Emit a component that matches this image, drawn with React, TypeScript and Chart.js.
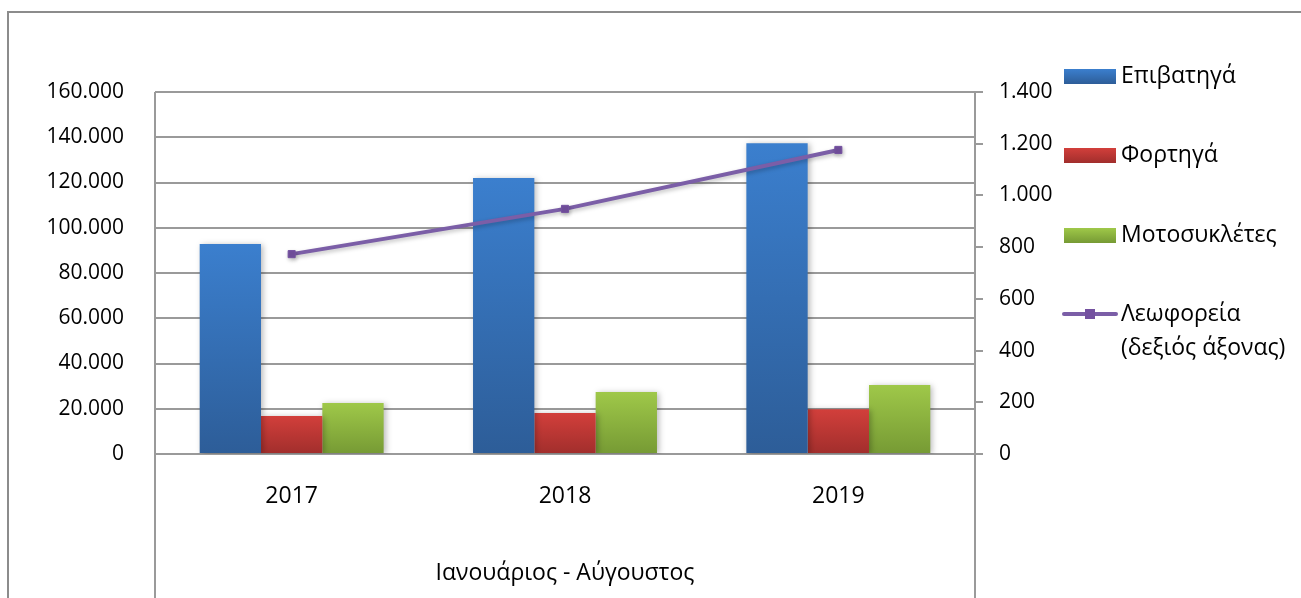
import React, { useEffect, useRef } from "react";
import { Chart, registerables } from "chart.js";

Chart.register(...registerables);

const categories = ["2017", "2018", "2019"];
const outerCategory = "Ιανουάριος - Αύγουστος";
const seriesNames = ["Επιβατηγά", "Φορτηγά", "Μοτοσυκλέτες", "Λεωφορεία (δεξιός άξονας)"];
const passengerCars = [92800, 122000, 137300];
const trucks = [16800, 18100, 19750];
const motorcycles = [22500, 27400, 30500];
const buses = [773, 948, 1176];
const leftMax = 160000;
const leftStep = 20000;
const rightMax = 1400;
const rightStep = 200;

const FONT = "'Open Sans', sans-serif";
const GRID = "#9a9a9a";

const barColors = [
  ["#3b7fce", "#2d5d98"],
  ["#d23f3b", "#a12e2c"],
  ["#9fc849", "#769a34"],
];

const fmt = (v: number) => String(Math.round(v)).replace(/\B(?=(\d{3})+(?!\d))/g, ".");

function barGradient(ctx: any, idx: number) {
  const chart = ctx.chart;
  const area = chart.chartArea;
  const c = barColors[idx];
  if (!area || ctx.raw === undefined) return c[0];
  const yScale = chart.scales.y;
  const top = yScale.getPixelForValue(ctx.raw);
  const bottom = yScale.getPixelForValue(0);
  const g = chart.ctx.createLinearGradient(0, top, 0, bottom);
  g.addColorStop(0, c[0]);
  g.addColorStop(1, c[1]);
  return g;
}

const decorPlugin = {
  id: "decor",
  beforeDatasetDraw(chart: any, args: any) {
    const ctx = chart.ctx;
    ctx.save();
    if (args.meta.type === "bar") {
      ctx.shadowColor = "rgba(0,0,0,0.28)";
      ctx.shadowBlur = 6;
      ctx.shadowOffsetX = 2;
      ctx.shadowOffsetY = 1;
    } else {
      ctx.shadowColor = "rgba(0,0,0,0.25)";
      ctx.shadowBlur = 4;
      ctx.shadowOffsetX = 1;
      ctx.shadowOffsetY = 2;
    }
  },
  afterDatasetDraw(chart: any) {
    chart.ctx.restore();
  },
  afterDraw(chart: any) {
    const ctx = chart.ctx;
    const { left, right, top } = chart.chartArea;
    const H = chart.height;
    const W = chart.width;
    ctx.save();
    // outer frame
    ctx.strokeStyle = "#8c8c8c";
    ctx.lineWidth = 2;
    ctx.beginPath();
    ctx.moveTo(8, H);
    ctx.lineTo(8, 12);
    ctx.lineTo(W, 12);
    ctx.stroke();
    // axis / category separators
    ctx.strokeStyle = GRID;
    ctx.lineWidth = 2;
    ctx.beginPath();
    ctx.moveTo(left, top);
    ctx.lineTo(left, H);
    ctx.moveTo(right, top);
    ctx.lineTo(right, H);
    ctx.stroke();
    // outer category label
    ctx.fillStyle = "#000";
    ctx.font = `23px ${FONT}`;
    ctx.textAlign = "center";
    ctx.textBaseline = "middle";
    ctx.fillText(outerCategory, (left + right) / 2, 573);

    // legend
    ctx.textAlign = "left";
    const boxX = 1064;
    const boxW = 52;
    const textX = 1121;
    const ys = [76, 155, 235];
    for (let i = 0; i < 3; i++) {
      const y = ys[i];
      const g = ctx.createLinearGradient(0, y - 7, 0, y + 8);
      g.addColorStop(0, barColors[i][0]);
      g.addColorStop(1, barColors[i][1]);
      ctx.fillStyle = g;
      ctx.fillRect(boxX, y - 7, boxW, 15);
      ctx.fillStyle = "#000";
      ctx.fillText(seriesNames[i], textX, y);
    }
    const ly = 314;
    ctx.strokeStyle = "#7b5ea7";
    ctx.lineWidth = 4;
    ctx.lineCap = "round";
    ctx.beginPath();
    ctx.moveTo(1064, ly);
    ctx.lineTo(1116, ly);
    ctx.stroke();
    ctx.fillStyle = "#7451a0";
    ctx.fillRect(1085, ly - 5, 10, 10);
    ctx.fillStyle = "#000";
    const parts = seriesNames[3].split(" (");
    ctx.fillText(parts[0], textX, ly);
    ctx.fillText("(" + parts[1], textX, ly + 34);
    ctx.restore();
  },
};

export default function App() {
  const ref = useRef<HTMLCanvasElement | null>(null);
  useEffect(() => {
    if (!ref.current) return;
    const chart = new Chart(ref.current, {
      type: "bar",
      data: {
        labels: categories,
        datasets: [
          {
            type: "line",
            label: seriesNames[3],
            data: buses,
            yAxisID: "y1",
            borderColor: "#7b5ea7",
            borderWidth: 4,
            pointStyle: "rect",
            pointRadius: 5,
            pointBackgroundColor: "#7451a0",
            pointBorderColor: "#7451a0",
            pointBorderWidth: 1,
            order: 0,
          } as any,
          {
            label: seriesNames[0],
            data: passengerCars,
            yAxisID: "y",
            backgroundColor: (c: any) => barGradient(c, 0),
            categoryPercentage: 0.673,
            barPercentage: 1,
            order: 1,
          },
          {
            label: seriesNames[1],
            data: trucks,
            yAxisID: "y",
            backgroundColor: (c: any) => barGradient(c, 1),
            categoryPercentage: 0.673,
            barPercentage: 1,
            order: 1,
          },
          {
            label: seriesNames[2],
            data: motorcycles,
            yAxisID: "y",
            backgroundColor: (c: any) => barGradient(c, 2),
            categoryPercentage: 0.673,
            barPercentage: 1,
            order: 1,
          },
        ],
      },
      options: {
        animation: false,
        responsive: false,
        devicePixelRatio: 1,
        layout: { padding: { left: 0, top: 92, right: 226, bottom: 0 } },
        plugins: { legend: { display: false }, tooltip: { enabled: false } },
        scales: {
          x: {
            grid: { display: false, drawTicks: false },
            border: { display: false },
            ticks: { color: "#000", font: { family: FONT, size: 23 }, padding: 29 },
            afterFit: (s: any) => {
              s.height = 144;
            },
          },
          y: {
            position: "left",
            min: 0,
            max: leftMax,
            grid: { color: GRID, lineWidth: 2, drawTicks: false },
            border: { display: false },
            ticks: {
              stepSize: leftStep,
              color: "#000",
              font: { family: FONT, size: 21 },
              padding: 31,
              callback: (v: any) => fmt(Number(v)),
            },
            afterFit: (s: any) => {
              s.width = 155;
            },
          },
          y1: {
            position: "right",
            min: 0,
            max: rightMax,
            grid: { drawOnChartArea: false, drawTicks: true, tickLength: 8, color: GRID, lineWidth: 2 },
            border: { display: false },
            ticks: {
              stepSize: rightStep,
              color: "#000",
              font: { family: FONT, size: 21 },
              padding: 16,
              callback: (v: any) => fmt(Number(v)),
            },
            afterFit: (s: any) => {
              s.width = 100;
            },
          },
        },
      },
      plugins: [decorPlugin],
    });
    return () => chart.destroy();
  }, []);
  return (
    <div style={{ position: "fixed", left: 0, top: 0, width: 1301, height: 598, background: "#fff" }}>
      <canvas ref={ref} width={1301} height={598} style={{ width: 1301, height: 598, display: "block" }} />
    </div>
  );
}
